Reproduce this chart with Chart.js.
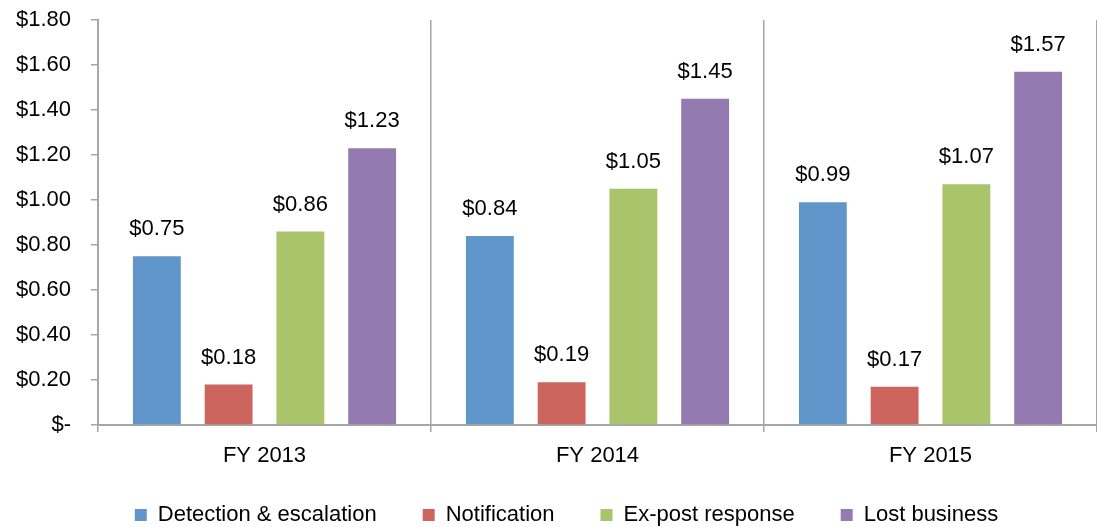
<!DOCTYPE html>
<html>
<head>
<meta charset="utf-8">
<script src="https://cdn.jsdelivr.net/npm/chart.js@4/dist/chart.umd.min.js"></script>
<style>
    html, body { margin: 0; padding: 0; background: #fff; }
    #wrap { width: 1097px; height: 527px; }
</style>
</head>
<body>
<div id="wrap"><canvas id="costChart"></canvas></div>
<script>
let categories = ['FY 2013', 'FY 2014', 'FY 2015'];
let seriesNames = ['Detection & escalation', 'Notification', 'Ex-post response', 'Lost business'];
let detection = [0.75, 0.84, 0.99];
let notification = [0.18, 0.19, 0.17];
let expost = [0.86, 1.05, 1.07];
let lostBusiness = [1.23, 1.45, 1.57];
let yTicks = [0, 0.2, 0.4, 0.6, 0.8, 1.0, 1.2, 1.4, 1.6, 1.8];

let colors = ['#6096c9', '#cd655f', '#a9c46a', '#937bb2'];
let axisGray = '#a6a6a6';
let fontFamily = '"Liberation Sans", Arial, sans-serif';

let money = v => v === 0 ? '$-' : '$' + v.toFixed(2);

// value labels above each bar
let valueLabels = {
    id: 'valueLabels',
    afterDatasetsDraw(chart) {
        let ctx = chart.ctx;
        ctx.save();
        ctx.font = '22px ' + fontFamily;
        ctx.fillStyle = '#000';
        ctx.textAlign = 'center';
        ctx.textBaseline = 'middle';
        chart.data.datasets.forEach((ds, i) => {
            chart.getDatasetMeta(i).data.forEach((bar, j) => {
                ctx.fillText(money(ds.data[j]), bar.x, bar.y - 27);
            });
        });
        ctx.restore();
    }
};

// tick labels are allowed to run outside the (narrowed) scale boxes
let noLabelClip = scale => { scale._computeLabelArea = () => undefined; };

let seriesData = [detection, notification, expost, lostBusiness];
let datasets = seriesNames.map((name, i) => ({
    label: name,
    data: seriesData[i],
    backgroundColor: colors[i],
    borderWidth: 0,
    barPercentage: 0.667,
    categoryPercentage: 0.862
}));

new Chart(document.getElementById('costChart'), {
    type: 'bar',
    data: {
        labels: categories,
        datasets: datasets
    },
    plugins: [valueLabels],
    options: {
        responsive: true,
        maintainAspectRatio: false,
        animation: false,
        layout: {
            padding: {left: 36, right: 0, top: 20, bottom: 0}
        },
        plugins: {
            tooltip: {enabled: false},
            legend: {
                position: 'bottom',
                maxHeight: 69,
                labels: {
                    boxWidth: 12,
                    boxHeight: 12,
                    padding: 46,
                    color: '#000',
                    font: {family: fontFamily, size: 22}
                }
            }
        },
        scales: {
            x: {
                afterFit: scale => { scale.height = 33; noLabelClip(scale); },
                grid: {
                    offset: true,
                    color: ctx => ctx.index === 3 ? 'rgba(0,0,0,0)' : axisGray,
                    lineWidth: 1.5,
                    tickLength: 7
                },
                border: {color: axisGray, width: 2},
                ticks: {
                    color: '#000',
                    padding: 11,
                    font: {family: fontFamily, size: 22}
                }
            },
            y: {
                min: 0,
                max: 1.8,
                afterFit: scale => {
                    scale.width = 62;
                    scale.paddingTop = 0;
                    scale.paddingBottom = 0;
                    noLabelClip(scale);
                },
                afterBuildTicks: scale => {
                    scale.ticks = yTicks.map(v => ({value: v}));
                },
                grid: {
                    drawOnChartArea: false,
                    color: axisGray,
                    lineWidth: 1.5,
                    tickLength: 7
                },
                border: {color: axisGray, width: 2},
                ticks: {
                    color: '#000',
                    padding: 20,
                    font: {family: fontFamily, size: 22},
                    callback: v => money(v)
                }
            }
        }
    }
});
</script>
</body>
</html>
